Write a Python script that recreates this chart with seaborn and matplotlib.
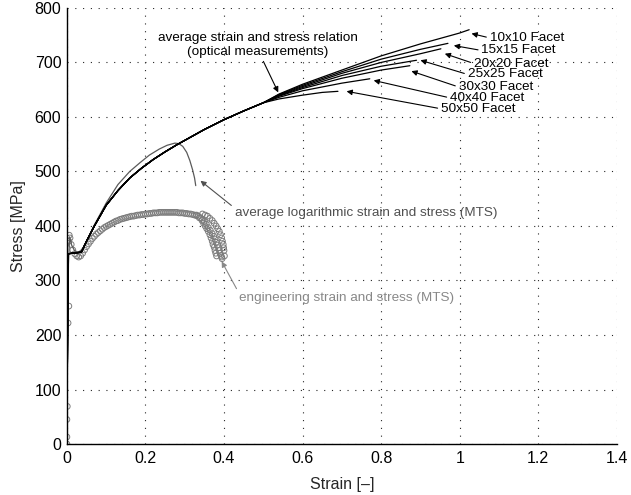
import numpy as np
import pandas as pd
import matplotlib
matplotlib.use("Agg")
import matplotlib.pyplot as plt
import seaborn as sns

# ---------------- data ----------------
# common trunk of the optical (DIC) curves
trunk_strain = [0, 0.003, 0.037, 0.05, 0.07, 0.10, 0.13, 0.16, 0.19, 0.22, 0.25, 0.28, 0.31, 0.35, 0.40, 0.45, 0.50]
trunk_stress = [0, 349, 352, 372, 400, 438, 465, 488, 506, 522, 536, 549, 561, 577, 595, 611, 626]

facet_labels = ["10x10 Facet", "15x15 Facet", "20x20 Facet", "25x25 Facet",
                "30x30 Facet", "40x40 Facet", "50x50 Facet"]
tail_strain_10 = [0.54, 0.60, 0.70, 0.80, 0.90, 1.00, 1.024]
tail_stress_10 = [642, 660, 686, 712, 734, 754, 760]
tail_strain_15 = [0.54, 0.60, 0.70, 0.80, 0.90, 0.97]
tail_stress_15 = [641, 658, 683, 706, 724, 735]
tail_strain_20 = [0.54, 0.60, 0.70, 0.80, 0.90, 0.952]
tail_stress_20 = [640, 656, 680, 700, 716, 725]
tail_strain_25 = [0.54, 0.60, 0.70, 0.80, 0.89]
tail_stress_25 = [639, 654, 676, 693, 704]
tail_strain_30 = [0.54, 0.60, 0.70, 0.80, 0.873]
tail_stress_30 = [638, 652, 671, 686, 694]
tail_strain_40 = [0.54, 0.60, 0.70, 0.771]
tail_stress_40 = [636, 648, 662, 670]
tail_strain_50 = [0.54, 0.60, 0.65, 0.69]
tail_stress_50 = [633, 640, 645, 647]

# label positions (text left / centre) and arrow tips
label_x = [1.076, 1.055, 1.036, 1.020, 0.997, 0.975, 0.952]
label_y = [745, 722, 698, 678, 655, 635, 615]
tip_x = [1.030, 0.985, 0.962, 0.900, 0.877, 0.781, 0.712]
tip_y = [753, 731, 716, 704, 684, 667, 647]

# average logarithmic strain and stress (MTS)
log_strain = [0, 0.002, 0.004, 0.007, 0.012, 0.02, 0.03, 0.04, 0.055, 0.07, 0.10, 0.13, 0.16,
              0.186, 0.21, 0.235, 0.255, 0.275, 0.285, 0.295, 0.305, 0.313, 0.32, 0.325, 0.328]
log_stress = [0, 200, 330, 380, 365, 354, 352, 358, 380, 402, 442, 476, 500,
              516, 530, 541, 548, 552, 551, 546, 535, 520, 503, 488, 474]

# engineering strain and stress (MTS) - circles
eng_strain = [0, 0, 0, 0.001, 0.003, 0.005, 0.005, 0.006, 0.008, 0.011, 0.015, 0.02,
              0.025, 0.03, 0.035, 0.04, 0.045, 0.05, 0.055, 0.06, 0.065, 0.07, 0.075, 0.08,
              0.085, 0.09, 0.095, 0.10, 0.105, 0.11, 0.115, 0.12, 0.125, 0.13, 0.135, 0.14,
              0.145, 0.15, 0.155, 0.16, 0.165, 0.17, 0.175, 0.18, 0.185, 0.19, 0.195, 0.20,
              0.205, 0.21, 0.215, 0.22, 0.225, 0.23, 0.235, 0.24, 0.245, 0.25, 0.255, 0.26,
              0.265, 0.27, 0.275, 0.28, 0.285, 0.29, 0.295, 0.30, 0.305, 0.31, 0.315, 0.32,
              0.325, 0.33,
              0.335, 0.34, 0.345, 0.35, 0.355, 0.36, 0.365, 0.37, 0.374, 0.377, 0.38, 0.383,
              0.386, 0.388, 0.39, 0.392, 0.394, 0.395,
              0.33, 0.337, 0.344, 0.348, 0.352, 0.356, 0.36, 0.364, 0.367, 0.37, 0.372, 0.375,
              0.377, 0.379, 0.381,
              0.345, 0.352, 0.358, 0.364, 0.37, 0.375, 0.38, 0.384, 0.388, 0.391, 0.394, 0.396,
              0.398, 0.399, 0.40, 0.401]
eng_stress = [0, 13, 45, 69, 222, 253, 372, 383, 378, 366, 356, 349,
              345, 343, 345, 350, 356, 362, 367, 372, 377, 381, 385, 388,
              391, 394, 397, 399, 401, 403, 405, 407, 409, 410, 412, 413,
              414, 415, 416, 417, 418, 418, 419, 420, 420, 421, 421, 422,
              422, 423, 423, 424, 424, 424, 425, 425, 425, 425, 425, 425,
              425, 425, 425, 425, 424, 424, 424, 423, 423, 422, 422, 421,
              420, 419,
              418, 415, 412, 408, 403, 397, 392, 386, 381, 376, 370, 365,
              360, 355, 350, 346, 343, 340,
              420, 415, 410, 405, 400, 395, 390, 384, 378, 372, 366, 361,
              355, 350, 345,
              422, 420, 418, 414, 410, 405, 400, 395, 390, 384, 378, 372,
              366, 360, 355, 345]

# ---------------- build long table ----------------
tails = [(tail_strain_10, tail_stress_10), (tail_strain_15, tail_stress_15),
         (tail_strain_20, tail_stress_20), (tail_strain_25, tail_stress_25),
         (tail_strain_30, tail_stress_30), (tail_strain_40, tail_stress_40),
         (tail_strain_50, tail_stress_50)]
frames = []
for lab, (ts, tsig) in zip(facet_labels, tails):
    frames.append(pd.DataFrame({"strain": trunk_strain + ts,
                                "stress": trunk_stress + tsig,
                                "curve": lab}))
optical = pd.concat(frames, ignore_index=True)
log_df = pd.DataFrame({"strain": log_strain, "stress": log_stress})
eng_df = pd.DataFrame({"strain": eng_strain, "stress": eng_stress})

# ---------------- style ----------------
sns.set_theme(style="white")
plt.rcParams["font.family"] = ["Liberation Sans", "DejaVu Sans"]
plt.rcParams["axes.unicode_minus"] = False

fig = plt.figure(figsize=(6.31, 4.95), dpi=100)
ax = fig.add_axes([0.106, 0.103, 0.8716, 0.881])

sns.scatterplot(data=eng_df, x="strain", y="stress", ax=ax, marker="o", s=17,
                facecolors="none", edgecolor="#7c7c7c", linewidth=0.7, zorder=2)
sns.lineplot(data=log_df, x="strain", y="stress", ax=ax, sort=False, estimator=None,
             color="#5a5a5a", linewidth=0.9, zorder=3)
sns.lineplot(data=optical, x="strain", y="stress", hue="curve", ax=ax, sort=False,
             estimator=None, palette=["black"] * 7, linewidth=0.9, legend=False, zorder=4)

ax.set_xlim(0, 1.4)
ax.set_ylim(0, 800)
xt = [0, 0.2, 0.4, 0.6, 0.8, 1.0, 1.2, 1.4]
ax.set_xticks(xt)
ax.set_xticklabels(["0", "0.2", "0.4", "0.6", "0.8", "1", "1.2", "1.4"])
ax.set_yticks(range(0, 801, 100))
ax.tick_params(direction="in", length=3, width=0.8, colors="black", labelsize=11.5)
ax.tick_params(axis="x", pad=5)
ax.tick_params(axis="y", pad=4)
ax.set_xlabel("Strain [\u2013]", fontsize=11.5, labelpad=8)
ax.set_ylabel("Stress [MPa]", fontsize=11.5, labelpad=6)

ax.grid(True, color="0.15", linestyle=(0, (1, 6)), linewidth=0.8)
for s in ["top", "right"]:
    ax.spines[s].set_visible(False)
for s in ["left", "bottom"]:
    ax.spines[s].set_color("black")
    ax.spines[s].set_linewidth(1.0)

fs = 9.7
for lab, lx, ly, tx, ty in zip(facet_labels, label_x, label_y, tip_x, tip_y):
    ax.annotate(lab, xy=(tx, ty), xytext=(lx, ly), ha="left", va="center", fontsize=fs,
                color="black",
                arrowprops=dict(arrowstyle="-|>", color="black", lw=0.8, shrinkA=0,
                                shrinkB=0, mutation_scale=8, relpos=(0, 0.5)))

ax.annotate("average strain and stress relation\n(optical measurements)", xy=(0.538, 645),
            xytext=(0.486, 732), ha="center", va="center", multialignment="center",
            fontsize=fs, color="black", linespacing=1.25,
            arrowprops=dict(arrowstyle="-|>", color="black", lw=0.8, shrinkA=0, shrinkB=0,
                            mutation_scale=8, relpos=(0.52, 0)))

ax.annotate("average logarithmic strain and stress (MTS)", xy=(0.340, 483),
            xytext=(0.427, 424), ha="left", va="center", fontsize=fs, color="#505050",
            arrowprops=dict(arrowstyle="-|>", color="#505050", lw=0.8, shrinkA=0, shrinkB=0,
                            mutation_scale=8, relpos=(0, 0.9)))

ax.annotate("engineering strain and stress (MTS)", xy=(0.394, 335),
            xytext=(0.438, 268), ha="left", va="center", fontsize=fs, color="#888888",
            arrowprops=dict(arrowstyle="-|>", color="#888888", lw=0.8, shrinkA=0, shrinkB=0,
                            mutation_scale=8, relpos=(0, 0.9)))

fig.savefig("out.png", dpi=100)
